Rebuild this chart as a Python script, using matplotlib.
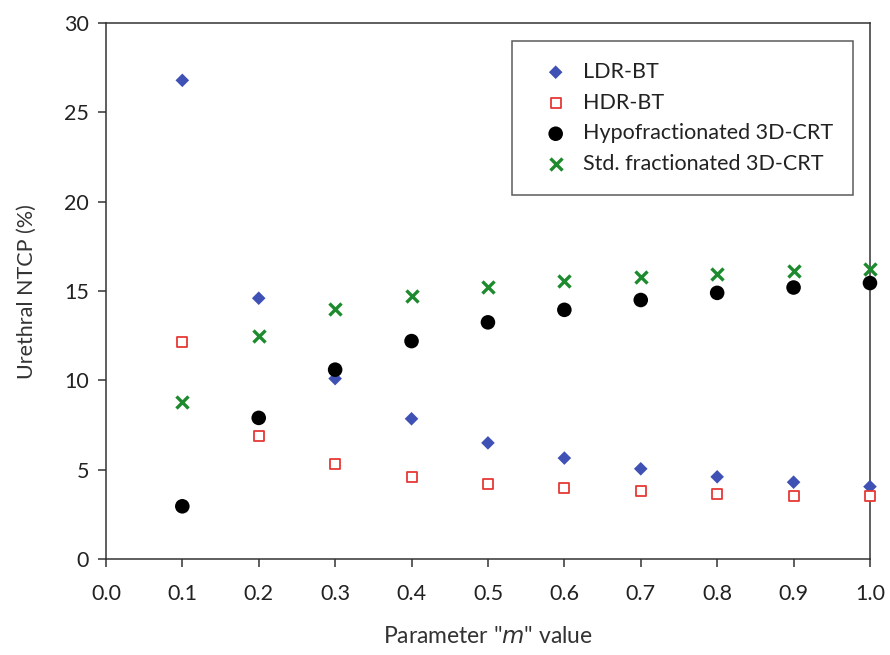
import matplotlib
matplotlib.use("Agg")
import matplotlib.pyplot as plt

plt.rcParams['font.family'] = ['Lato', 'DejaVu Sans']

m_values = [0.1, 0.2, 0.3, 0.4, 0.5, 0.6, 0.7, 0.8, 0.9, 1.0]
ldr_bt = [26.8, 14.6, 10.1, 7.85, 6.5, 5.65, 5.05, 4.6, 4.3, 4.05]
hdr_bt = [12.15, 6.9, 5.3, 4.6, 4.2, 3.95, 3.8, 3.65, 3.55, 3.5]
hypo_3dcrt = [2.95, 7.9, 10.6, 12.2, 13.25, 13.95, 14.5, 14.9, 15.2, 15.45]
std_3dcrt = [8.8, 12.5, 14.0, 14.75, 15.25, 15.55, 15.8, 15.95, 16.1, 16.25]

x_ticks = [0.0, 0.1, 0.2, 0.3, 0.4, 0.5, 0.6, 0.7, 0.8, 0.9, 1.0]
y_ticks = [0, 5, 10, 15, 20, 25, 30]

fig = plt.figure(figsize=(8.9, 6.55), dpi=100)
ax = fig.add_axes([0.119, 0.1466, 0.8585, 0.818])

ax.scatter(m_values, ldr_bt, marker='D', s=48, color='#3f51b5', edgecolors='none',
           label='LDR-BT', clip_on=False, zorder=3)
ax.scatter(m_values, hdr_bt, marker='s', s=60, facecolors='white', edgecolors='#e53935',
           linewidths=1.3, label='HDR-BT', clip_on=False, zorder=3)
ax.scatter(m_values, hypo_3dcrt, marker='o', s=110, color='black', edgecolors='none',
           label='Hypofractionated 3D-CRT', clip_on=False, zorder=3)
ax.scatter(m_values, std_3dcrt, marker='x', s=75, color='#1e8a2e', linewidths=2.4,
           label='Std. fractionated 3D-CRT', clip_on=False, zorder=3)

ax.set_xlim(0, 1.0)
ax.set_ylim(0, 30)
ax.set_xticks(x_ticks)
ax.set_xticklabels([f"{v:.1f}" for v in x_ticks])
ax.set_yticks(y_ticks)

for sp in ax.spines.values():
    sp.set_linewidth(1.1)
    sp.set_color('#333333')

ax.tick_params(axis='both', direction='out', length=6, width=1.1, color='#333333',
               labelsize=15.5, labelcolor='#222222', pad=6)
ax.tick_params(axis='x', pad=12)

ax.set_xlabel('Parameter "$\\it{m}$" value', fontsize=16.5, color='#333333', labelpad=16)
ax.set_ylabel('Urethral NTCP (%)', fontsize=15.5, color='#333333', labelpad=20)

leg = ax.legend(loc='upper right', bbox_to_anchor=(0.978, 0.966), fontsize=15.5,
                frameon=True, fancybox=False, edgecolor='#333333', borderpad=0.95,
                labelspacing=0.5, handletextpad=0.15, borderaxespad=0.0,
                handlelength=2.2)
leg.get_frame().set_linewidth(1.1)
for t in leg.get_texts():
    t.set_color('#222222')

fig.savefig('out.png', dpi=100)
